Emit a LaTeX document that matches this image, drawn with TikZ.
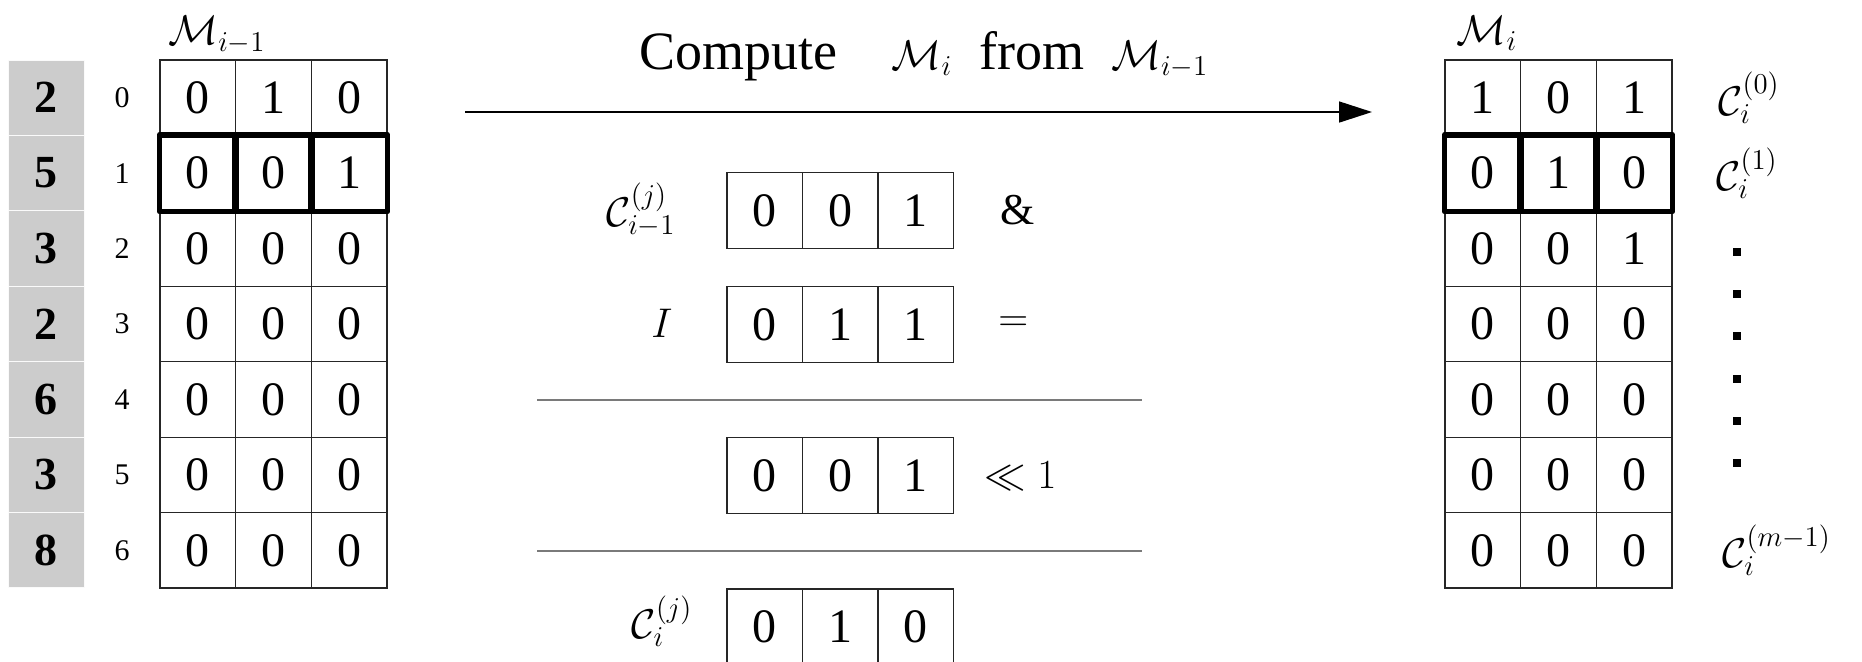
\documentclass[tikz,border=0pt]{standalone}
\usepackage{fontspec}
\setmainfont{Liberation Serif}
\usetikzlibrary{arrows.meta,positioning}
\definecolor{Shade}{HTML}{CCCCCC}
\definecolor{Rule}{HTML}{7A7A7A}
\tikzset{
  cell/.style={draw=black!85,line width=0.6pt,minimum width=37.8pt,minimum height=37.7pt,inner sep=0pt,font=\fontsize{24}{28}\selectfont},
  hot/.style={draw=black,line width=2.8pt,line join=round},
  wt/.style={fill=Shade,draw=white!90!Shade,line width=0.5pt,minimum width=38pt,minimum height=37.7pt,inner sep=0pt,font=\fontsize{23}{28}\selectfont\bfseries},
  idx/.style={inner sep=0pt,font=\fontsize{15}{18}\selectfont},
  lbl/.style={inner sep=0pt,font=\fontsize{21}{25}\selectfont},
  op/.style={inner sep=0pt,font=\fontsize{22}{26}\selectfont},
  rule/.style={draw=Rule,line width=0.8pt},
  arr/.style={-{Triangle[length=16.5pt,width=10.5pt]},line width=0.8pt},
  dot/.style={fill=black,minimum size=4pt,inner sep=0pt}
}
\begin{document}
\begin{tikzpicture}[x=0.5pt,y=-0.5pt]
  \useasboundingbox (0,0) rectangle (1862,661);
  % weights and row numbers
  \foreach \w [count=\r from 0] in {2,5,3,2,6,3,8} {
    \node[wt] (w\r) at (46,{97.7+75.43*\r}) {\w};
    \node[idx] (k\r) at (122,{97.7+75.43*\r}) {\r};
  }
  % M_{i-1}
  \foreach \row [count=\r from 0] in {{0,1,0},{0,0,1},{0,0,0},{0,0,0},{0,0,0},{0,0,0},{0,0,0}}
    \foreach \v [count=\c from 0] in \row
      \node[cell] (p\r-\c) at ({197.8+75.67*\c},{97.7+75.43*\r}) {\v};
  \foreach \c in {0,1,2} \draw[hot] (p1-\c.north west) rectangle (p1-\c.south east);
  \node[lbl] (mold) at (217,35) {$\mathcal{M}_{i-1}$};

  % M_i
  \foreach \row [count=\r from 0] in {{1,0,1},{0,1,0},{0,0,1},{0,0,0},{0,0,0},{0,0,0},{0,0,0}}
    \foreach \v [count=\c from 0] in \row
      \node[cell] (n\r-\c) at ({1482.8+75.67*\c},{97.7+75.43*\r}) {\v};
  \foreach \c in {0,1,2} \draw[hot] (n1-\c.north west) rectangle (n1-\c.south east);
  \node[lbl] (mnew) at (1487,33) {$\mathcal{M}_i$};
  \node[lbl,anchor=west] (c0) at (1718,97.7) {$\mathcal{C}_i^{(0)}$};
  \node[lbl,anchor=west] (c1) at (1716,173) {$\mathcal{C}_i^{(1)}$};
  \foreach \k in {0,...,5} \node[dot] (d\k) at (1737,{252+42.2*\k}) {};
  \node[lbl,anchor=west] (cm) at (1722,550) {$\mathcal{C}_i^{(m-1)}$};

  % title and arrow
  \node[font=\fontsize{27}{30}\selectfont,inner sep=0pt] (ttl) at (924,56)
    {Compute\quad{\fontsize{21}{25}\selectfont$\mathcal{M}_i$}\ \ from\ \ {\fontsize{21}{25}\selectfont$\mathcal{M}_{i-1}$}};
  \coordinate (from) at (465,112);
  \coordinate (to) at (1372,112);
  \draw[arr] (from) -- (to);

  % one step: C & I, shift
  \foreach \v [count=\c from 0] in {0,0,1} \node[cell] (a\c) at ({764.7+75.4*\c},210.5) {\v};
  \foreach \v [count=\c from 0] in {0,1,1} \node[cell] (b\c) at ({764.7+75.4*\c},324.5) {\v};
  \foreach \v [count=\c from 0] in {0,0,1} \node[cell] (s\c) at ({764.7+75.4*\c},475.5) {\v};
  \foreach \v [count=\c from 0] in {0,1,0} \node[cell] (z\c) at ({764.7+75.4*\c},626.7) {\v};
  \node[lbl] (ca) at (641,210) {$\mathcal{C}^{(j)}_{i-1}$};
  \node[lbl] (ci) at (662,323) {$I$};
  \node[lbl] (cz) at (662,621) {$\mathcal{C}^{(j)}_{i}$};
  \node[op,right=23pt of a2] (and) {$\&$};
  \node[op,right=22pt of b2] (eq) {$=$};
  \node[op,right=15pt of s2] (shl) {$\ll 1$};
  \draw[rule] (537,400) -- (1142,400);
  \draw[rule] (537,551) -- (1142,551);
\end{tikzpicture}
\end{document}
